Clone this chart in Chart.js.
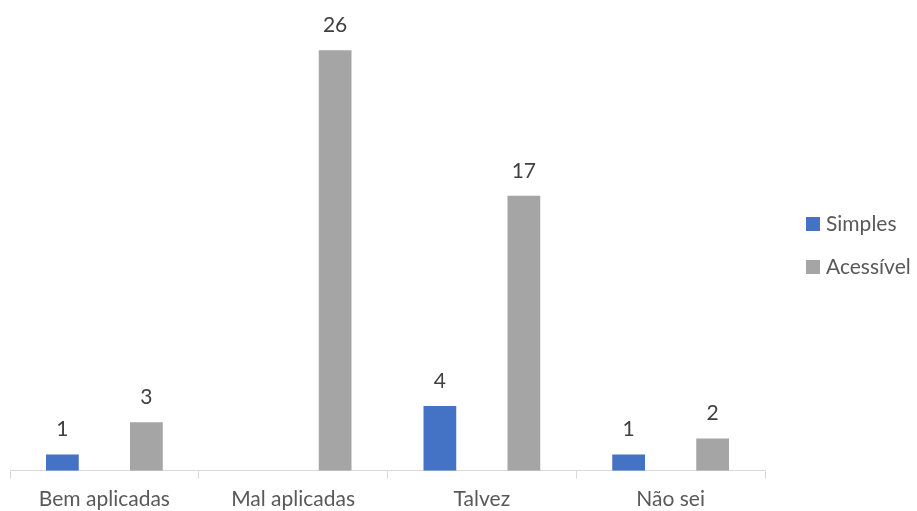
<!DOCTYPE html>
<html>
<head>
<meta charset="utf-8">
<script src="https://cdn.jsdelivr.net/npm/chart.js@4.4.1/dist/chart.umd.min.js"></script>
<style>
  html, body { margin: 0; padding: 0; background: #fff; }
  #wrap { width: 917px; height: 511px; position: relative; }
</style>
</head>
<body>
<div id="wrap"><canvas id="respostas"></canvas></div>
<script>
var categorias = ['Bem aplicadas', 'Mal aplicadas', 'Talvez', 'Não sei'];
var simples = [1, null, 4, 1];
var acessivel = [3, 26, 17, 2];
var nomesSeries = ['Simples', 'Acessível'];
var coresSeries = ['#4472c4', '#a5a5a5'];

var fonte = 'Lato, "Open Sans", sans-serif';

// rotulos de valor em cima das barras
var rotulosPlugin = {
    id: 'rotulos',
    afterDatasetsDraw: function (chart) {
        var ctx = chart.ctx;
        ctx.save();
        ctx.font = '21px ' + fonte;
        ctx.fillStyle = '#404040';
        ctx.textAlign = 'center';
        ctx.textBaseline = 'middle';
        chart.data.datasets.forEach(function (ds, i) {
            var meta = chart.getDatasetMeta(i);
            meta.data.forEach(function (bar, j) {
                var v = ds.data[j];
                if (v === null || v === undefined) return;
                ctx.fillText(String(v), bar.x, bar.y - 25);
            });
        });
        ctx.restore();
    }
};

// legenda a direita, estilo excel
var legendaPlugin = {
    id: 'legendaDireita',
    afterDraw: function (chart) {
        var ctx = chart.ctx;
        var area = chart.chartArea;
        var x = area.right + 41;
        var y = 224;
        ctx.save();
        ctx.font = '21px ' + fonte;
        ctx.textBaseline = 'middle';
        ctx.textAlign = 'left';
        chart.data.datasets.forEach(function (ds, i) {
            ctx.fillStyle = ds.backgroundColor;
            ctx.fillRect(x, y + i * 43 - 7, 14, 14);
            ctx.fillStyle = '#595959';
            ctx.fillText(ds.label, x + 20, y + i * 43);
        });
        ctx.restore();
    }
};

var ctx = document.getElementById('respostas');
var grafico = new Chart(ctx, {
    type: 'bar',
    data: {
        labels: categorias,
        datasets: [{
            label: nomesSeries[0],
            data: simples,
            backgroundColor: coresSeries[0],
            categoryPercentage: 0.89,
            barPercentage: 0.39
        }, {
            label: nomesSeries[1],
            data: acessivel,
            backgroundColor: coresSeries[1],
            categoryPercentage: 0.89,
            barPercentage: 0.39
        }]
    },
    options: {
        responsive: true,
        maintainAspectRatio: false,
        animation: false,
        layout: {
            padding: { left: 10, right: 152, top: 0, bottom: -9 }
        },
        plugins: {
            legend: { display: false },
            tooltip: { enabled: false }
        },
        scales: {
            x: {
                grid: {
                    offset: true,
                    drawOnChartArea: false,
                    drawTicks: true,
                    tickLength: 8,
                    color: '#d9d9d9'
                },
                border: { color: '#d9d9d9', width: 1 },
                ticks: {
                    color: '#595959',
                    padding: 8,
                    font: { family: fonte, size: 21 }
                }
            },
            y: {
                display: false,
                min: 0,
                max: 29.1
            }
        }
    },
    plugins: [rotulosPlugin, legendaPlugin]
});
</script>
</body>
</html>
